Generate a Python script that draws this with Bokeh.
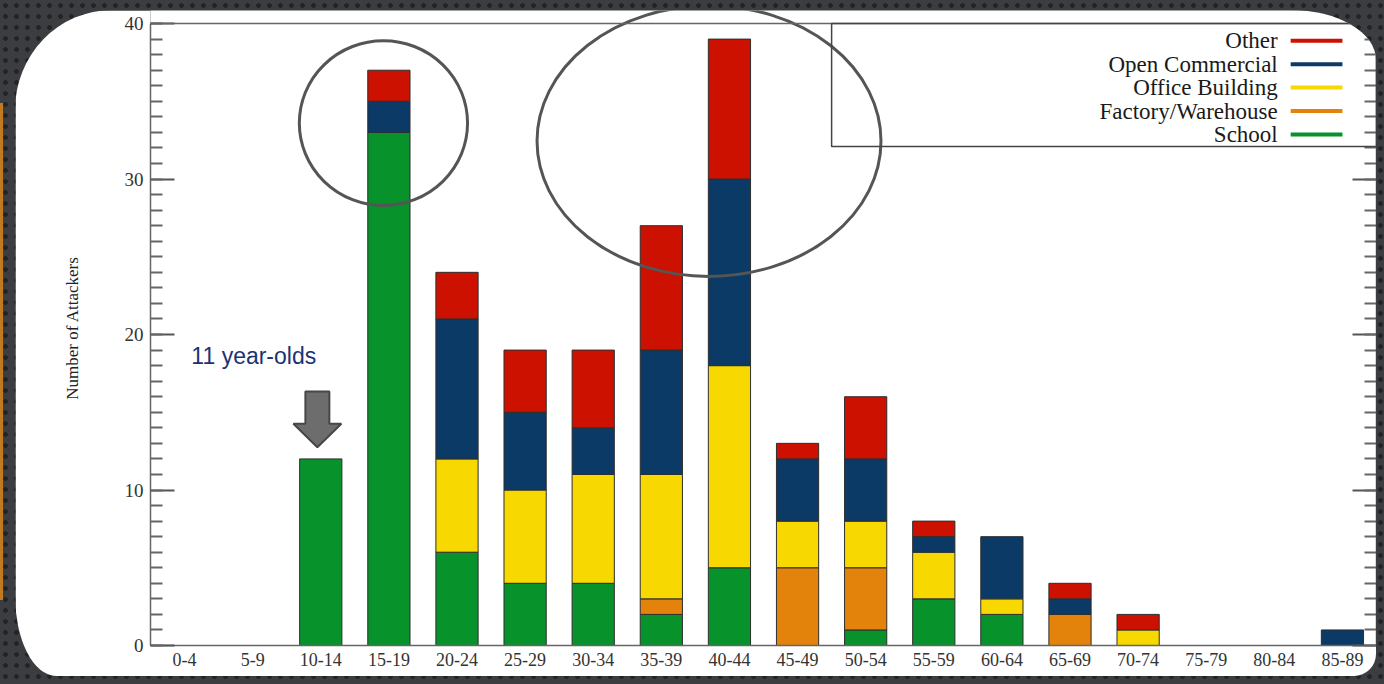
from bokeh.plotting import figure
from bokeh.models import (FactorRange, Range1d, LinearAxis, SingleIntervalTicker, Span,
                          BoxAnnotation, Label, ColumnDataSource, GlobalInlineStyleSheet)
from bokeh.embed import file_html
from bokeh.resources import INLINE

# ---------------- data ----------------
ages = ["0-4", "5-9", "10-14", "15-19", "20-24", "25-29", "30-34", "35-39", "40-44",
        "45-49", "50-54", "55-59", "60-64", "65-69", "70-74", "75-79", "80-84", "85-89"]
school          = [0, 0, 12, 33, 6, 4, 4, 2, 5, 0, 1, 3, 2, 0, 0, 0, 0, 0]
factory         = [0, 0, 0, 0, 0, 0, 0, 1, 0, 5, 4, 0, 0, 2, 0, 0, 0, 0]
office_building = [0, 0, 0, 0, 6, 6, 7, 8, 13, 3, 3, 3, 1, 0, 1, 0, 0, 0]
open_commercial = [0, 0, 0, 2, 9, 5, 3, 8, 12, 4, 4, 1, 4, 1, 0, 0, 0, 1]
other           = [0, 0, 0, 2, 3, 4, 5, 8, 9, 1, 4, 1, 0, 1, 1, 0, 0, 0]

series_names = ["School", "Factory/Warehouse", "Office Building", "Open Commercial", "Other"]
series_values = [school, factory, office_building, open_commercial, other]
series_colors = ["#07922c", "#e3830c", "#f7d800", "#0b3a66", "#cc1100"]

legend_order = ["Other", "Open Commercial", "Office Building", "Factory/Warehouse", "School"]

BG_CSS = (
    "body{background:"
    "linear-gradient(#c07a22,#c07a22) 0px 103px / 3px 497px no-repeat,"
    "radial-gradient(circle, #222325 2px, transparent 2.7px) 0 0 / 11px 11px,"
    "#3b3d41;}"
)

p = figure(x_range=FactorRange(factors=ages, range_padding=0),
           y_range=Range1d(0, 40.84),
           width=1361, height=666, output_backend="svg", toolbar_location=None,
           min_border_left=135, min_border_right=0, min_border_top=0, min_border_bottom=31,
           background_fill_color="white", border_fill_color="white",
           outline_line_color=None,
           styles={"position": "absolute", "left": "15px", "top": "10px",
                   "border-radius": "97px 85px 22px 41px / 100px 50px 22px 81px",
                   "overflow": "hidden"},
           stylesheets=[GlobalInlineStyleSheet(css=BG_CSS)])
p.xgrid.visible = False
p.ygrid.visible = False

# ---------------- stacked bars ----------------
bottoms = [0] * len(ages)
for name, vals, col in zip(series_names, series_values, series_colors):
    xs, b, t = [], [], []
    for i, v in enumerate(vals):
        if v > 0:
            xs.append(ages[i]); b.append(bottoms[i]); t.append(bottoms[i] + v)
        bottoms[i] += v
    src = ColumnDataSource(dict(x=xs, bottom=b, top=t))
    p.vbar(x="x", bottom="bottom", top="top", width=0.62, source=src,
           fill_color=col, line_color="#2e2e2e", line_width=1)

# ---------------- axes ----------------
def style_y(ax):
    ax.ticker = SingleIntervalTicker(interval=10, num_minor_ticks=10)
    ax.bounds = (0, 40)
    ax.axis_line_color = "#666666"
    ax.axis_line_width = 1.5
    ax.major_tick_in = 24
    ax.major_tick_out = 0
    ax.minor_tick_in = 12
    ax.minor_tick_out = 0
    ax.major_tick_line_color = "#555555"
    ax.major_tick_line_width = 2
    ax.minor_tick_line_color = "#666666"
    ax.minor_tick_line_width = 2

ly = p.yaxis[0]
style_y(ly)
ly.major_label_text_font = "Liberation Serif"
ly.major_label_text_font_size = "19px"
ly.major_label_text_color = "#333333"
ly.major_label_standoff = 7
ly.axis_label = "Number of Attackers"
ly.axis_label_text_font = "Liberation Serif"
ly.axis_label_text_font_size = "17px"
ly.axis_label_text_font_style = "normal"
ly.axis_label_text_color = "#222222"
ly.axis_label_standoff = 40

ry = LinearAxis(major_label_text_font_size="1px", major_label_standoff=0,
                major_label_text_color=None)
style_y(ry)
p.add_layout(ry, "right")

xa = p.xaxis[0]
xa.major_tick_in = 0
xa.major_tick_out = 0
xa.axis_line_color = "#666666"
xa.axis_line_width = 1.5
xa.major_label_text_font = "Liberation Serif"
xa.major_label_text_font_size = "18px"
xa.major_label_text_color = "#333333"
xa.major_label_standoff = 7

p.add_layout(Span(location=40, dimension="width", line_color="#666666", line_width=1.5))

# ---------------- legend (text left of line sample) ----------------
p.add_layout(BoxAnnotation(left=10, bottom=32.1, top=40, fill_color=None, fill_alpha=0,
                           line_color="#444444", line_alpha=1, line_width=1.5))
leg_y = [38.9 - 1.51 * i for i in range(len(legend_order))]
leg_colors = [series_colors[series_names.index(n)] for n in legend_order]
for name, yy in zip(legend_order, leg_y):
    p.add_layout(Label(x=16.55, y=yy, text=name, text_align="right", text_baseline="middle",
                       text_font="Liberation Serif", text_font_size="23px",
                       text_color="#1a1a1a"))
p.segment(x0=[16.74] * len(leg_y), x1=[17.5] * len(leg_y), y0=leg_y, y1=leg_y,
          line_color=leg_colors, line_width=4)

# ---------------- highlight ellipses ----------------
p.ellipse(x=[3.42, 8.2], y=[33.6, 32.44], width=[2.47, 5.05], height=[10.6, 17.4],
          fill_color=None, line_color="#555555", line_width=3)

# ---------------- "11 year-olds" note and arrow ----------------
ax_c, tip, base, top_ = 2.45, 12.75, 14.26, 16.33
hw, sw = 0.352, 0.176
p.patch(x=[ax_c, ax_c - hw, ax_c - sw, ax_c - sw, ax_c + sw, ax_c + sw, ax_c + hw],
        y=[tip, base, base, top_, top_, base, base],
        fill_color="#6d6d6d", line_color="#474747", line_width=2)
p.add_layout(Label(x=0.6, y=18.6, text="11 year-olds", text_baseline="middle",
                   text_font="Liberation Sans", text_font_size="23px",
                   text_color="#1b3275"))

open("out.html", "w").write(file_html(p, INLINE))
